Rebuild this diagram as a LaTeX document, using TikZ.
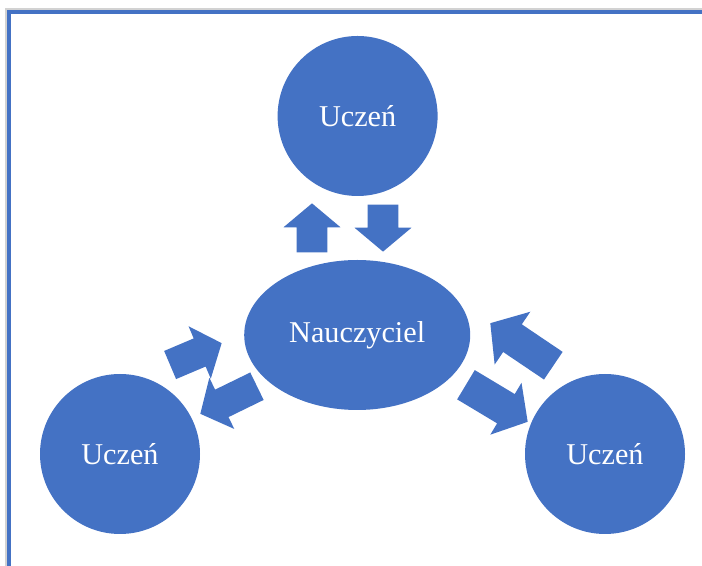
\documentclass[tikz,border=0pt]{standalone}
\usepackage{fontspec}
\setmainfont{Liberation Serif}
\usepackage{xcolor}
\usepackage{tikz}
\usetikzlibrary{shapes.geometric,shapes.arrows}
\definecolor{officeblue}{HTML}{4472C4}

\begin{document}
\begin{tikzpicture}[font=\fontsize{21.5}{25}\selectfont,
    person/.style={circle,fill=officeblue,text=white,minimum size=4cm,inner sep=0},
    teacher/.style={ellipse,fill=officeblue,text=white,minimum width=5.65cm,minimum height=3.75cm,inner sep=0},
    blockarrow/.style={single arrow,fill=officeblue,inner xsep=0,inner ysep=0.375cm,anchor=tip,
      single arrow head extend=0.33cm,single arrow tip angle=100}]
    \useasboundingbox (0,0) rectangle (17.55,14.15);
    % frame
    \draw[gray!35,line width=1.5pt] (0.14,0) -- (0.14,13.92) -- (17.55,13.92);
    \draw[officeblue,line width=2.4pt] (0.225,0) -- (0.225,13.85) -- (17.55,13.85);

    \node[person] (uczenTop) at (8.94,11.25) {Uczeń};
    \node[teacher] (nauczyciel) at (8.93,5.775) {Nauczyciel};
    \node[person] (uczenLeft) at (3.0,2.8) {Uczeń};
    \node[person] (uczenRight) at (15.125,2.8) {Uczeń};

    % arrows, placed by their tips
    \node[blockarrow,minimum height=1.225cm,rotate=90] (upArr) at (7.8,9.075) {};
    \node[blockarrow,minimum height=1.175cm,rotate=-90] (downArr) at (9.575,7.85) {};
    \node[blockarrow,minimum height=1.4cm,rotate=23] (leftIn) at (5.55,5.575) {};
    \node[blockarrow,minimum height=1.575cm,rotate=206] (leftOut) at (5.0,3.8) {};
    \node[blockarrow,minimum height=1.9cm,inner ysep=0.41cm,single arrow head extend=0.38cm,rotate=146] (rightIn) at (12.25,6.075) {};
    \node[blockarrow,minimum height=1.8cm,inner ysep=0.42cm,single arrow head extend=0.33cm,rotate=-31] (rightOut) at (13.2,3.6) {};
  \end{tikzpicture}
\end{document}
